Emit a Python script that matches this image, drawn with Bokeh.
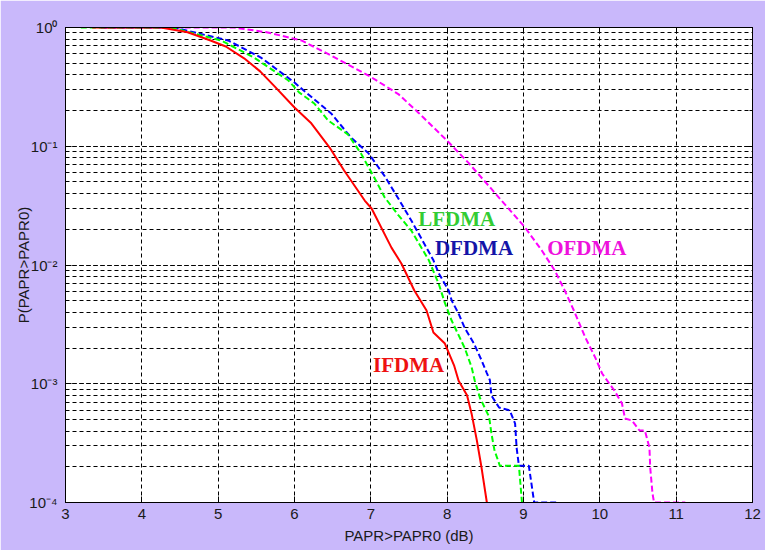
from bokeh.plotting import figure
from bokeh.models import (Range1d, LogAxis, LinearAxis, SingleIntervalTicker,
                          LogTicker, CustomJSTickFormatter)
from bokeh.core.properties import value
from bokeh.embed import file_html
from bokeh.resources import INLINE

# ---- data ----
ifdma_x = [3.35, 4.25, 4.60, 4.90, 5.10, 5.34, 5.55, 5.73, 6.00, 6.22, 6.46, 6.65, 6.92,
           7.01, 7.27, 7.40, 7.57, 7.73, 7.82, 7.97, 8.09, 8.15, 8.26, 8.32, 8.39, 8.45,
           8.52]
ifdma_y = [1.0, 1.0, 0.912, 0.778, 0.692, 0.550, 0.427, 0.324, 0.212, 0.156, 0.0975,
           0.0625, 0.0349, 0.0299, 0.0140, 0.0103, 0.0061, 0.00414, 0.0027, 0.00218,
           0.00143, 0.00106, 0.00080, 0.00056, 0.00033, 0.000197, 0.0001]

lfdma_x = [3.20, 4.38, 5.04, 5.47, 5.92, 6.06, 6.26, 6.44, 6.70, 6.87, 7.05, 7.18, 7.36,
           7.53, 7.76, 7.89, 7.97, 8.06, 8.23, 8.32, 8.36, 8.43, 8.55, 8.58, 8.62, 8.69,
           8.94, 8.98]
lfdma_y = [1.0, 1.0, 0.778, 0.558, 0.358, 0.284, 0.229, 0.165, 0.126, 0.0871, 0.0537,
           0.0372, 0.0263, 0.0195, 0.01096, 0.00692, 0.00479, 0.00339, 0.0020, 0.00138,
           0.00107, 0.00076, 0.000525, 0.00038, 0.000275, 0.000204, 0.000204, 0.0001]

dfdma_x = [3.46, 4.42, 5.13, 5.56, 6.00, 6.12, 6.48, 6.74, 6.97, 7.18, 7.36, 7.53, 7.70,
           7.82, 7.89, 8.02, 8.06, 8.15, 8.23, 8.35, 8.45, 8.52, 8.56, 8.58, 8.68, 8.82,
           8.89, 8.91, 8.94, 9.07, 9.14, 9.46]
dfdma_y = [1.0, 1.0, 0.778, 0.558, 0.344, 0.295, 0.189, 0.1186, 0.0871, 0.0562, 0.0363,
           0.0237, 0.0151, 0.01096, 0.00851, 0.0061, 0.00501, 0.00389, 0.00295, 0.00219,
           0.00158, 0.00123, 0.00107, 0.000794, 0.000631, 0.000596, 0.000462, 0.000288,
           0.000204, 0.000204, 0.0001, 0.0001]

ofdma_x = [3.50, 5.21, 5.65, 6.09, 6.48, 6.97, 7.36, 7.63, 8.02, 8.28, 8.58, 9.02, 9.24,
           9.41, 9.54, 9.66, 9.81, 9.94, 10.03, 10.19, 10.29, 10.33, 10.42, 10.52, 10.59,
           10.65, 10.66, 10.69, 10.71, 11.12]
ofdma_y = [1.0, 1.0, 0.908, 0.778, 0.581, 0.394, 0.275, 0.190, 0.108, 0.0724, 0.0437,
           0.0207, 0.01324, 0.00899, 0.0061, 0.00414, 0.00245, 0.00166, 0.00122, 0.000877,
           0.000682, 0.000509, 0.000491, 0.000404, 0.000404, 0.00029, 0.000197, 0.000119,
           0.0001, 0.0001]

label_text = ["LFDMA", "DFDMA", "OFDMA", "IFDMA"]
label_x = [7.62, 7.84, 9.31, 7.03]
label_y = [0.0246, 0.0140, 0.0140, 0.00145]
label_color = ["#33CC33", "#1414A8", "#EE11DD", "#EE1111"]

# ---- figure ----
BG = "#C9B8FB"
FONT = "Liberation Sans"

p = figure(width=765, height=550, output_backend="svg", toolbar_location=None,
           y_axis_type="log", x_range=Range1d(3, 12), y_range=Range1d(1e-4, 1),
           min_border_left=65, min_border_right=13, min_border_top=27, min_border_bottom=48,
           background_fill_color="white", border_fill_color=BG)
p.outline_line_color = "black"
p.outline_line_width = 1

p.xaxis.ticker = SingleIntervalTicker(interval=1, num_minor_ticks=0)
p.xaxis.minor_tick_line_color = None

sup_code = r"""
const sup = {'0':'\u2070','1':'\u00B9','2':'\u00B2','3':'\u00B3','4':'\u2074',
             '5':'\u2075','6':'\u2076','7':'\u2077','8':'\u2078','9':'\u2079','-':'\u207B'};
const e = Math.round(Math.log10(tick));
return '10' + String(e).split('').map(c => sup[c]).join('');
"""
p.yaxis.formatter = CustomJSTickFormatter(code=sup_code)

for ax in (p.xaxis[0], p.yaxis[0]):
    ax.major_label_text_font = FONT
    ax.major_label_text_font_size = "15px"
    ax.major_label_text_color = "#1a1a1a"
    ax.axis_label_text_font = FONT
    ax.axis_label_text_font_size = "15px"
    ax.axis_label_text_font_style = "normal"
    ax.axis_label_text_color = "#1a1a1a"
    ax.axis_line_color = "black"
    ax.major_tick_line_color = "black"
    ax.major_tick_in = 6
    ax.major_tick_out = 0
    ax.minor_tick_in = 3
    ax.minor_tick_out = 0

p.xaxis.axis_label = "PAPR>PAPR0 (dB)"
p.yaxis.axis_label = "P(PAPR>PAPR0)"
p.xaxis.major_label_standoff = 6
p.xaxis.axis_label_standoff = 5
p.yaxis.major_label_standoff = 8
p.yaxis.axis_label_standoff = -6

# box ticks on top and right
top_ax = LinearAxis(ticker=SingleIntervalTicker(interval=1, num_minor_ticks=0),
                    major_label_text_font_size="0px", major_label_standoff=0,
                    major_tick_in=6, major_tick_out=0, minor_tick_line_color=None,
                    axis_line_color="black")
top_ax.formatter = CustomJSTickFormatter(code="return '';")
right_ax = LogAxis(ticker=LogTicker(), major_label_text_font_size="0px",
                   major_label_standoff=0, major_tick_in=6, major_tick_out=0,
                   minor_tick_in=3, minor_tick_out=0, axis_line_color="black")
right_ax.formatter = CustomJSTickFormatter(code="return '';")
p.add_layout(top_ax, "above")
p.add_layout(right_ax, "right")

# grid
p.xgrid.grid_line_color = "black"
p.xgrid.grid_line_dash = "4 3"
p.xgrid.grid_line_width = 1
p.ygrid.grid_line_color = "black"
p.ygrid.grid_line_dash = "4 3"
p.ygrid.grid_line_width = 1
p.ygrid.minor_grid_line_color = "black"
p.ygrid.minor_grid_line_dash = "4 3"
p.ygrid.minor_grid_line_width = 1

# curves
p.line(ofdma_x, ofdma_y, line_color="#FF00FF", line_width=2, line_dash="6 3")
p.line(dfdma_x, dfdma_y, line_color="#0000FF", line_width=2, line_dash="6 3")
p.line(lfdma_x, lfdma_y, line_color="#00FF00", line_width=2, line_dash="6 3")
p.line(ifdma_x, ifdma_y, line_color="#FF0000", line_width=2)

p.text(x=label_x, y=label_y, text=label_text, text_color=label_color,
       text_font=value("Liberation Serif"), text_font_style="bold",
       text_font_size="21px", text_align="left", text_baseline="alphabetic")

open("out.html", "w").write(file_html(p, INLINE))
